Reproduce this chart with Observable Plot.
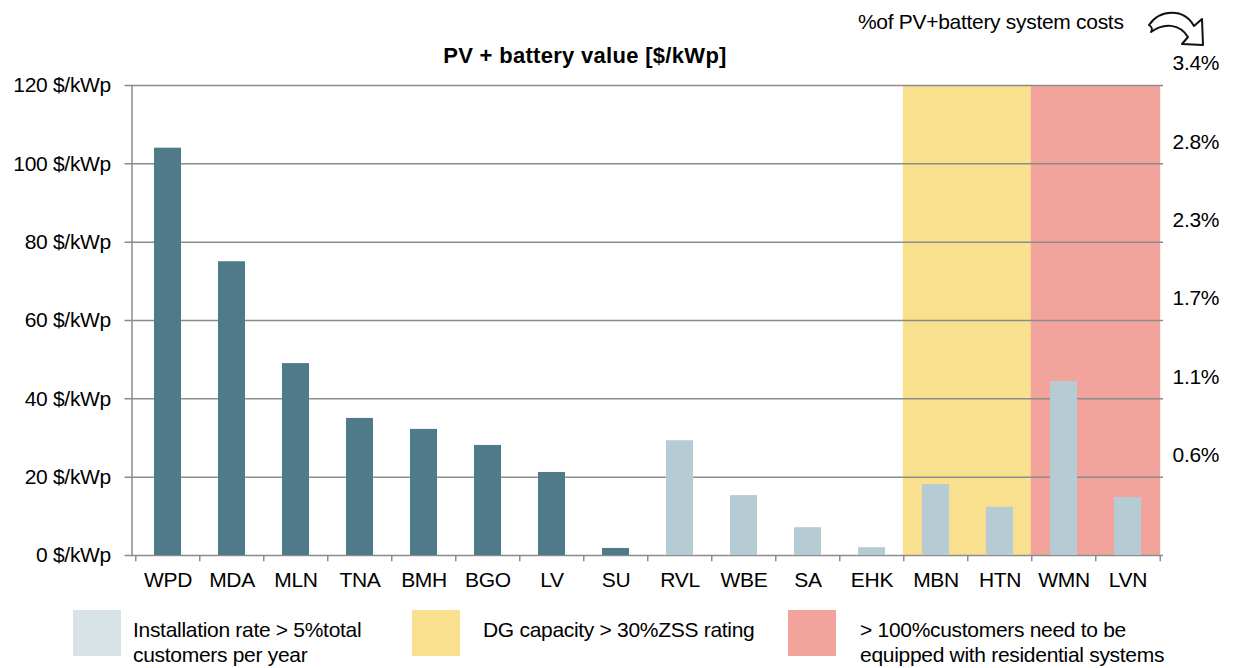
<!DOCTYPE html>
<html><head><meta charset="utf-8">
<script src="https://cdn.jsdelivr.net/npm/d3@7"></script>
<script src="https://cdn.jsdelivr.net/npm/@observablehq/plot@0.6"></script>
<style>
body{margin:0;background:#fff;font-family:"Liberation Sans",Arial,sans-serif;}
#wrap{position:relative;width:1233px;height:668px;overflow:hidden;}
#chart{position:absolute;left:0;top:0;}
.t{position:absolute;color:#000;white-space:nowrap;letter-spacing:-0.3px;}
.sw{position:absolute;width:48px;height:46px;}
</style></head>
<body><div id="wrap"><div id="chart"></div></div>
<script>
const categories = ["WPD","MDA","MLN","TNA","BMH","BGO","LV","SU","RVL","WBE","SA","EHK","MBN","HTN","WMN","LVN"];
const values = [104,75,49,35,32.2,28.1,21.2,1.8,29.3,15.3,7.1,2.0,18.1,12.3,44.4,14.8];
const groups = ["base","base","base","base","base","base","base","base","install","install","install","install","install","install","install","install"];
const zoneCategories = ["MBN","HTN","WMN","LVN"];
const zoneTypes = ["dg","dg","customers","customers"];
const leftTicks = [0,20,40,60,80,100,120];
const rightTicks = [20,40,60,80,100,120];
const rightLabels = ["0.6%","1.1%","1.7%","2.3%","2.8%","3.4%"];
const legendLabels = ["Installation rate &gt; 5%total<br>customers per year","DG capacity &gt; 30%ZSS rating","&gt; 100%customers need to be<br>equipped with residential systems"];

const W = 1233, H = 600, mL = 131.5, mR = 70, mT = 85, mB = 45;
const step = (W - mL - mR) / categories.length;
const pad = 0.58;
const bw = step * (1 - pad);
const ext = -(step - bw) / 2 - 0.5;

const bars = categories.map((c,i)=>({cat:c, v:values[i], g:groups[i]}));
const zones = zoneCategories.map((c,i)=>({cat:c, z:zoneTypes[i]}));
const barColor = {base:"#4F7A8A", install:"#B5CCD4"};
const zoneColor = {dg:"#F9E08E", customers:"#F2A49C"};

const plot = Plot.plot({
  width: W, height: H, marginLeft: mL, marginRight: mR, marginTop: mT, marginBottom: mB,
  style: {fontFamily: '"Liberation Sans", Arial, sans-serif', fontSize: "21px", color: "#000", letterSpacing: "-0.3px", overflow: "visible"},
  x: {domain: categories, paddingInner: pad, paddingOuter: pad/2, label: null},
  y: {domain: [0,120], label: null},
  marks: [
    Plot.barY(zones, {x: "cat", y1: 0, y2: 120, fill: d => zoneColor[d.z], insetLeft: ext, insetRight: ext}),
    Plot.ruleY(leftTicks, {stroke: "#8c8c8c", strokeWidth: 1.5, insetLeft: -7}),
    Plot.frame({anchor: "left", stroke: "#8c8c8c", strokeWidth: 1.5}),
    Plot.barY(bars, {x: "cat", y: "v", fill: d => barColor[d.g]}),
    Plot.ruleX(categories, {x: d => d, dx: -step/2, y1: 0, y2: -1.6, stroke: "#8c8c8c", strokeWidth: 1.5}),
    Plot.ruleX([categories[categories.length-1]], {x: d => d, dx: step/2, y1: 0, y2: -1.6, stroke: "#8c8c8c", strokeWidth: 1.5}),
    Plot.axisY(leftTicks, {anchor: "left", tickSize: 0, tickPadding: 21, tickFormat: d => d + " $/kWp", fontSize: 21}),
    Plot.axisY(rightTicks, {anchor: "right", tickSize: 0, tickPadding: 9, dy: -22, tickFormat: d => rightLabels[rightTicks.indexOf(d)], fontSize: 21}),
    Plot.axisX({anchor: "bottom", tickSize: 0, tickPadding: 17, fontSize: 21})
  ]
});
document.getElementById("chart").appendChild(plot);

const wrap = document.getElementById("wrap");
function addText(html, left, top, extra){
  const d = document.createElement("div");
  d.className = "t"; d.innerHTML = html;
  d.style.left = left + "px"; d.style.top = top + "px";
  Object.assign(d.style, extra || {});
  wrap.appendChild(d); return d;
}
// Title
addText("PV + battery value [$/kWp]", 585, 43, {fontWeight: "bold", fontSize: "22px", letterSpacing: "0.3px", transform: "translateX(-50%)"});
// annotation
addText("%of PV+battery system costs", 858, 10, {fontSize: "21px"});
const ns = "http://www.w3.org/2000/svg";
const arrow = document.createElementNS(ns, "svg");
arrow.setAttribute("width", 64); arrow.setAttribute("height", 46);
arrow.style.position = "absolute"; arrow.style.left = "1146px"; arrow.style.top = "6px";
arrow.innerHTML = '<path d="M3,19 C14,3 38,2 48,20 L56,13 L57,39 L36,38 L42,31 C34,18 18,16 5,26 C7,23 6,21 3,19 Z" fill="none" stroke="#111" stroke-width="2" stroke-linejoin="round"/>';
wrap.appendChild(arrow);

// Legend
const legendColors = ["#D8E3E8", "#F9E08E", "#F2A49C"];
const swX = [73, 412, 788];
const txX = [133, 483, 860];
legendColors.forEach((c,i)=>{
  const s = document.createElement("div");
  s.className = "sw"; s.style.background = c; s.style.left = swX[i]+"px"; s.style.top = "610px";
  wrap.appendChild(s);
  addText(legendLabels[i], txX[i], 617, {fontSize: "21px", lineHeight: "25px"});
});
</script></body></html>
